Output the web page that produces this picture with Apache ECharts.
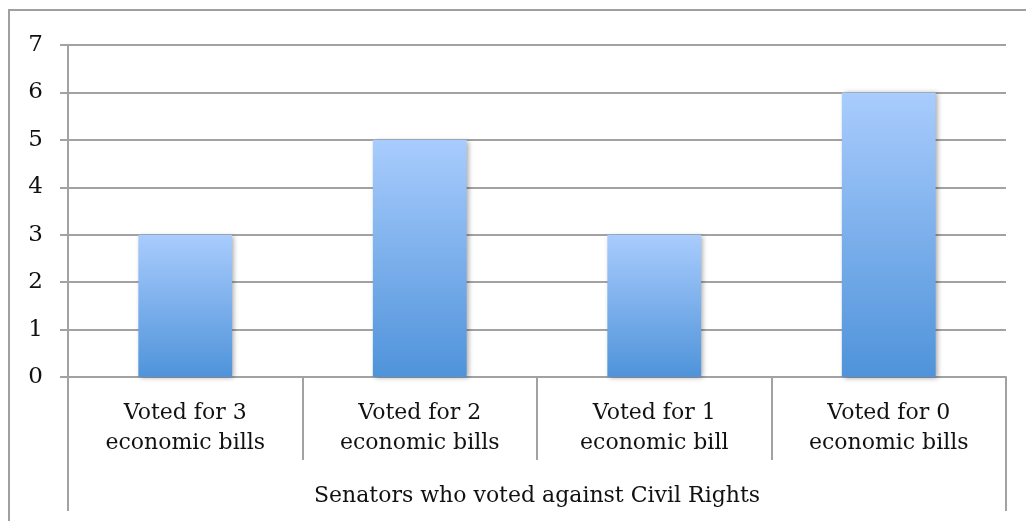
<!DOCTYPE html>
<html>
<head>
<meta charset="utf-8">
<style>
  html, body { margin: 0; padding: 0; background: #fff; }
  #chart { width: 1026px; height: 521px; }
</style>
<script src="https://cdn.jsdelivr.net/npm/echarts@6/dist/echarts.min.js"></script>
</head>
<body>
<div id="chart"></div>
<script>
// Inner category labels (one per bar)
const categories = [
  'Voted for 3\neconomic bills',
  'Voted for 2\neconomic bills',
  'Voted for 1\neconomic bill',
  'Voted for 0\neconomic bills'
];
// Outer group label spanning all bars
const groupLabels = ['Senators who voted against Civil Rights'];
// Number of senators in each group
const senatorCounts = [3, 5, 3, 6];
// Value axis ticks
const yTicks = { min: 0, max: 7, step: 1 };

const FONT = '"DejaVu Serif", "Liberation Serif", serif';
const GRID_COLOR = '#a2a2a2';

const chart = echarts.init(document.getElementById('chart'), null, { renderer: 'canvas' });

chart.setOption({
  animation: false,
  backgroundColor: '#ffffff',
  textStyle: { fontFamily: FONT },
  graphic: [{
    type: 'rect',
    shape: { x: 9, y: 10, width: 1060, height: 560 },
    style: { fill: 'none', stroke: '#a0a0a0', lineWidth: 2 },
    silent: true,
    z: -10
  }],
  grid: { left: 68, right: 20, top: 45, bottom: 144, containLabel: false },
  xAxis: [
    {
      type: 'category',
      data: categories,
      axisLine: { show: true, lineStyle: { color: GRID_COLOR, width: 2 } },
      axisTick: { show: true, interval: 0, length: 83, lineStyle: { color: GRID_COLOR, width: 2 } },
      axisLabel: {
        interval: 0, margin: 21, color: '#111', fontFamily: FONT,
        fontSize: 22, lineHeight: 30, align: 'center'
      }
    },
    {
      type: 'category',
      position: 'bottom',
      data: groupLabels,
      axisLine: { show: false },
      axisTick: { show: true, interval: 0, length: 134, lineStyle: { color: GRID_COLOR, width: 2 } },
      axisLabel: { interval: 0, margin: 104, color: '#111', fontFamily: FONT, fontSize: 22, lineHeight: 30 }
    }
  ],
  yAxis: {
    type: 'value',
    min: yTicks.min,
    max: yTicks.max,
    interval: yTicks.step,
    axisLine: { show: true, lineStyle: { color: GRID_COLOR, width: 2 } },
    axisTick: { show: true, length: 8, lineStyle: { color: GRID_COLOR, width: 2 } },
    splitLine: { show: true, lineStyle: { color: GRID_COLOR, width: 2 } },
    axisLabel: { margin: 25, color: '#111', fontFamily: FONT, fontSize: 23, padding: [5, 0, 0, 0] }
  },
  series: [{
    type: 'bar',
    xAxisIndex: 0,
    data: senatorCounts,
    barWidth: '40%',
    itemStyle: {
      color: new echarts.graphic.LinearGradient(0, 0, 0, 1, [
        { offset: 0, color: '#a9ccfd' },
        { offset: 1, color: '#4f93da' }
      ]),
      shadowColor: 'rgba(0,0,0,0.35)',
      shadowBlur: 5,
      shadowOffsetX: 2,
      shadowOffsetY: 1
    },
    z: 3
  }]
});
</script>
</body>
</html>
